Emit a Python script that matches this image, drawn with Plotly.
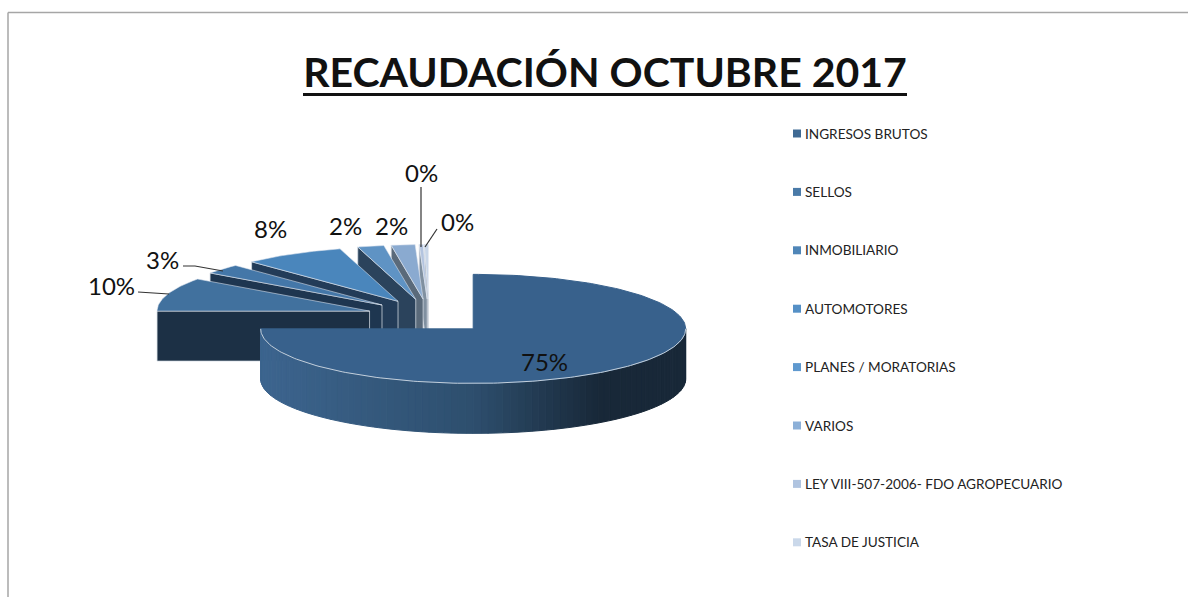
import numpy as np
import plotly.graph_objects as go

# ---- data ----
categories = ["INGRESOS BRUTOS", "SELLOS", "INMOBILIARIO", "AUTOMOTORES",
              "PLANES / MORATORIAS", "VARIOS",
              "LEY VIII-507-2006- FDO AGROPECUARIO", "TASA DE JUSTICIA"]
values = [75.0, 10.0, 2.9, 7.7, 2.0, 1.8, 0.3, 0.3]
top_colors = ["#38618c", "#41719e", "#4477a8", "#4a86bc", "#5f93c4", "#8aaad0", "#b3c4df", "#c8d6e8"]
wall_colors = ["#1c3045", "#1c3045", "#1e3650", "#233c58", "#2b435c", "#5a6a7a", "#8090a0", "#a0aab4"]
legend_colors = ["#3f6a94", "#4a7aa8", "#4f86b8", "#5590c6", "#5f99cf", "#8cb0d8", "#b0c4e0", "#cad8ea"]

# ---- projection settings (pixel-scaled axes) ----
CX, CY = 429.0, 316.5      # pie centre before explosion
RX, RY = 212.5, 54.5       # ellipse radii
EX, EY = 62.5, 17.5        # explosion offset
DEPTH = 50.0

label_pos = [(544, 361), (111, 285), (162, 259), (270, 228), (345, 225), (391, 225), (421, 172), (457, 221)]
leaders = [
    ([138, 155, 169], [292, 293, 294]),
    ([183, 195, 223], [266, 266, 271]),
    ([421, 421], [187, 247]),
    ([437, 425], [229, 247]),
]

frac = np.array(values) / sum(values)
ends = np.cumsum(frac) * 360.0
starts = ends - frac * 360.0
mids = (starts + ends) / 2


def apex(i):
    a = np.radians(mids[i])
    return CX + EX * np.sin(a), CY - EY * np.cos(a)


def rim(i, deg):
    a = np.radians(deg)
    ax, ay = apex(i)
    return ax + RX * np.sin(a), ay - RY * np.cos(a)


def poly(xs, ys, fill, line=None, width=1):
    return go.Scatter(x=xs, y=ys, mode="lines", fill="toself", fillcolor=fill,
                      line=dict(color=line or fill, width=width),
                      hoverinfo="skip", showlegend=False)


fig = go.Figure()

# exploded slices, back to front
for i in range(len(values) - 1, 0, -1):
    ax, ay = apex(i)
    sx, sy = rim(i, starts[i])
    # front-facing cut wall
    fig.add_trace(poly([ax, sx, sx, ax, ax], [ay, sy, sy + DEPTH, ay + DEPTH, ay],
                       wall_colors[i], "rgba(215,222,230,0.75)"))
    # top face
    degs = np.linspace(starts[i], ends[i], 30)
    pts = [rim(i, d) for d in degs]
    xs = [ax] + [p[0] for p in pts] + [ax]
    ys = [ay] + [p[1] for p in pts] + [ay]
    fig.add_trace(poly(xs, ys, top_colors[i], "rgba(225,232,240,0.55)"))

# main slice: outer wall with horizontal shading
ax, ay = apex(0)
wall_left = np.array([0x3d, 0x65, 0x8f])
wall_mid = np.array([0x2e, 0x4f, 0x6e])
wall_dark = np.array([0x18, 0x28, 0x38])
degs = np.arange(90, 270, 2.0)
for d in degs:
    x0, y0 = rim(0, d)
    x1, y1 = rim(0, d + 2.0)
    t = ((x0 + x1) / 2 - (ax - RX)) / (2 * RX)
    if t < 0.5:
        c = wall_left + (wall_mid - wall_left) * (t / 0.5)
    else:
        c = wall_mid + (wall_dark - wall_mid) * min((t - 0.5) / 0.3, 1.0)
    col = "rgb(%d,%d,%d)" % tuple(c)
    fig.add_trace(poly([x0, x1, x1, x0, x0], [y0, y1, y1 + DEPTH, y0 + DEPTH, y0], col))

# main slice: top face
degs = np.linspace(0, ends[0], 200)
pts = [rim(0, d) for d in degs]
fig.add_trace(poly([ax] + [p[0] for p in pts] + [ax], [ay] + [p[1] for p in pts] + [ay], top_colors[0]))
# rim highlight along the front
degs = np.linspace(90, ends[0], 150)
pts = [rim(0, d) for d in degs]
fig.add_trace(go.Scatter(x=[p[0] for p in pts], y=[p[1] for p in pts], mode="lines",
                         line=dict(color="#c3cfdb", width=1), hoverinfo="skip", showlegend=False))

# leader lines
for lx, ly in leaders:
    fig.add_trace(go.Scatter(x=lx, y=ly, mode="lines", line=dict(color="#333333", width=1.2),
                             hoverinfo="skip", showlegend=False))

# legend squares
legend_y = [133.5 + 58.4 * k for k in range(len(categories))]
fig.add_trace(go.Scatter(x=[797] * len(categories), y=legend_y, mode="markers",
                         marker=dict(symbol="square", size=8, color=legend_colors),
                         hoverinfo="skip", showlegend=False))

annotations = []
for cat, y in zip(categories, legend_y):
    annotations.append(dict(x=802.5, y=y, text=cat, showarrow=False, xanchor="left", yanchor="middle",
                            xref="x", yref="y", font=dict(family="Lato", size=13.6, color="#222222")))
for v, (lx, ly) in zip(values, label_pos):
    annotations.append(dict(x=lx, y=ly, text="%d%%" % round(v), showarrow=False, xanchor="center",
                            yanchor="middle", xref="x", yref="y",
                            font=dict(family="Lato", size=24, color="#111111")))

fig.update_layout(
    width=1188, height=597, margin=dict(l=0, r=0, t=0, b=0),
    paper_bgcolor="white", plot_bgcolor="white", showlegend=False,
    xaxis=dict(range=[0, 1188], visible=False, fixedrange=True),
    yaxis=dict(range=[597, 0], visible=False, fixedrange=True),
    title=dict(text="<b>RECAUDACIÓN OCTUBRE 2017</b>", x=605 / 1188, xanchor="center",
               y=1 - 72.5 / 597, yanchor="middle", font=dict(family="Lato", size=41, color="#111111")),
    annotations=annotations,
    shapes=[
        dict(type="line", xref="x", yref="y", x0=8, x1=8, y0=12.5, y1=597, line=dict(color="#a6a6a6", width=1.5)),
        dict(type="line", xref="x", yref="y", x0=8, x1=1188, y0=12.5, y1=12.5, line=dict(color="#a6a6a6", width=1.5)),
        dict(type="line", xref="x", yref="y", x0=303, x1=907, y0=94.5, y1=94.5, line=dict(color="#111111", width=3)),
    ],
)

fig.write_html("out.html", config={"displayModeBar": False},
               post_script="document.body.style.margin='0';document.body.style.overflow='hidden';")
